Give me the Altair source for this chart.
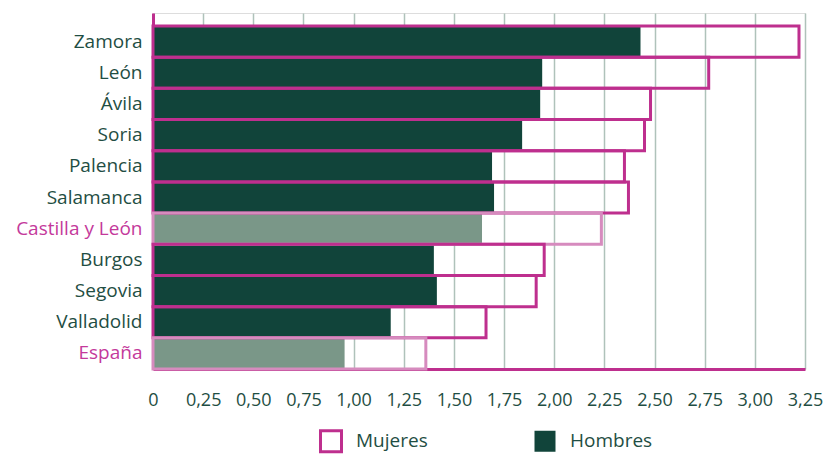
import altair as alt
import pandas as pd

regiones = ["Zamora", "León", "Ávila", "Soria", "Palencia", "Salamanca",
            "Castilla y León", "Burgos", "Segovia", "Valladolid", "España"]
mujeres = [3.22, 2.77, 2.48, 2.45, 2.35, 2.37, 2.235, 1.95, 1.91, 1.66, 1.36]
hombres = [2.43, 1.94, 1.93, 1.84, 1.69, 1.70, 1.64, 1.40, 1.415, 1.185, 0.955]
agregados = ["Castilla y León", "España"]
ticks = [0, 0.25, 0.5, 0.75, 1.0, 1.25, 1.5, 1.75, 2.0, 2.25, 2.5, 2.75, 3.0, 3.25]

rows = []
for r, h, m in zip(regiones, hombres, mujeres):
    suf = " (total)" if r in agregados else ""
    rows.append({"region": r, "serie": "Hombres", "clave": "Hombres" + suf, "valor": h})
    rows.append({"region": r, "serie": "Mujeres", "clave": "Mujeres" + suf, "valor": m})
df = pd.DataFrame(rows)

MAG = "#BE2F8E"
MAG_L = "#D68BBE"
GREEN = "#11443A"
GREEN_L = "#7A9788"
TXT = "#1F4E43"
TXT_M = "#C4399B"
FONT = "Open Sans"

claves = ["Mujeres", "Hombres", "Mujeres (total)", "Hombres (total)"]
fill_scale = alt.Scale(domain=claves, range=["transparent", GREEN, "transparent", GREEN_L])
stroke_scale = alt.Scale(domain=claves, range=[MAG, "transparent", MAG_L, "transparent"])

y_enc = alt.Y("region:N", sort=regiones, title=None,
              scale=alt.Scale(paddingInner=0, paddingOuter=0.2085, align=1),
              axis=alt.Axis(labelFontSize=19, labelFont=FONT, ticks=False,
                            labelPadding=11, domainColor=MAG, domainWidth=3,
                            minExtent=145, maxExtent=145,
                            labelColor=alt.expr("datum.value == 'España' || datum.value == 'Castilla y León' ? '%s' : '%s'" % (TXT_M, TXT))))
x_enc = alt.X("valor:Q", title=None, stack=None,
              scale=alt.Scale(domain=[0, 3.25], nice=False, zero=True),
              axis=alt.Axis(values=ticks, labelFontSize=18, labelFont=FONT, labelColor=TXT,
                            ticks=False, labelPadding=22, domainColor=MAG, domainWidth=3,
                            grid=True, gridColor="#AFC2BA", gridWidth=1.5,
                            labelFlush=False,
                            labelExpr="datum.value == 0 ? '0' : replace(format(datum.value, '.2f'), '.', ',')"))

legend = alt.Legend(title=None, orient="none", legendX=166, legendY=416, direction="horizontal",
                    values=["Mujeres", "Hombres"], symbolType="square", symbolSize=441,
                    symbolStrokeWidth=3, labelFontSize=19, labelFont=FONT, labelColor=TXT,
                    labelOffset=13, columnPadding=100, padding=0)

base = alt.Chart(df)
h_layer = base.transform_filter(alt.datum.serie == "Hombres").mark_bar(strokeWidth=3).encode(
    y=y_enc, x=x_enc,
    fill=alt.Fill("clave:N", scale=fill_scale, legend=legend),
    stroke=alt.Stroke("clave:N", scale=stroke_scale, legend=legend),
)
m_layer = base.transform_filter(alt.datum.serie == "Mujeres").mark_bar(strokeWidth=3).encode(
    y=y_enc, x=x_enc,
    fill=alt.Fill("clave:N", scale=fill_scale, legend=legend),
    stroke=alt.Stroke("clave:N", scale=stroke_scale, legend=legend),
)

chart = alt.layer(h_layer, m_layer).properties(
    width=652, height=356,
    padding={"left": 0, "top": 5, "right": 0, "bottom": 0},
).configure_view(stroke="#9AB0A6", strokeWidth=1.5).configure(background="white")

chart.save("out.html", embed_options={"renderer": "svg", "actions": False})
